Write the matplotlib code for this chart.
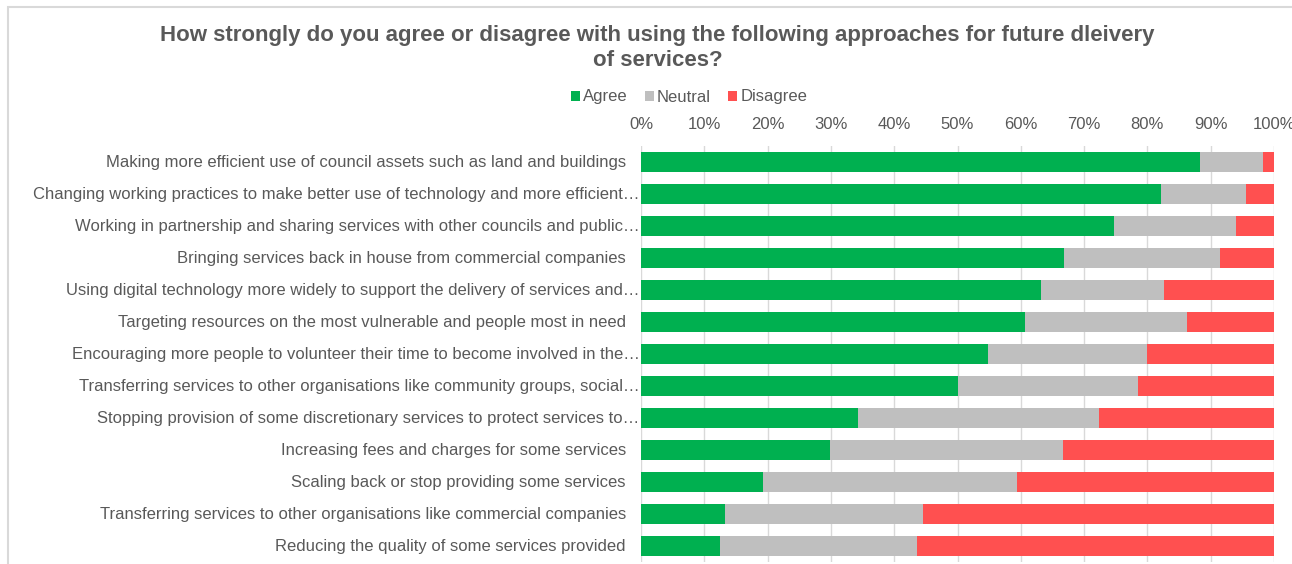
import numpy as np
import matplotlib.pyplot as plt
from matplotlib.patches import Rectangle

plt.rcParams['font.family'] = ['Liberation Sans', 'DejaVu Sans']

categories = [
    'Making more efficient use of council assets such as land and buildings',
    'Changing working practices to make better use of technology and more efficient\u2026',
    'Working in partnership and sharing services with other councils and public\u2026',
    'Bringing services back in house from commercial companies',
    'Using digital technology more widely to support the delivery of services and\u2026',
    'Targeting resources on the most vulnerable and people most in need',
    'Encouraging more people to volunteer their time to become involved in the\u2026',
    'Transferring services to other organisations like community groups, social\u2026',
    'Stopping provision of some discretionary services to protect services to\u2026',
    'Increasing fees and charges for some services',
    'Scaling back or stop providing some services',
    'Transferring services to other organisations like commercial companies',
    'Reducing the quality of some services provided',
]
agree = [88.3, 82.1, 74.7, 66.9, 63.2, 60.7, 54.8, 50.0, 34.3, 29.9, 19.2, 13.3, 12.5]
neutral = [9.9, 13.4, 19.3, 24.5, 19.5, 25.5, 25.1, 28.5, 38.1, 36.7, 40.2, 31.3, 31.1]
disagree = [1.8, 4.5, 6.0, 8.6, 17.3, 13.8, 20.1, 21.5, 27.6, 33.4, 40.6, 55.4, 56.4]
series_names = ['Agree', 'Neutral', 'Disagree']
colors = ['#00b050', '#bfbfbf', '#ff5050']
text_col = '#595959'

W, H = 1292, 564
fig = plt.figure(figsize=(W / 100, H / 100), dpi=100)

# chart frame
fig.patches.append(Rectangle((8 / W, -0.1), 1.2, 1.1 - 7 / H, transform=fig.transFigure,
                             facecolor='none', edgecolor='#d9d9d9', linewidth=1.5, zorder=-1))

ax = fig.add_axes([641 / W, 2 / H, (1274 - 641) / W, (564 - 146 - 2) / H])
ax.set_facecolor('none')

y = np.arange(len(categories))
left = np.zeros(len(categories))
for vals, name, col in zip([agree, neutral, disagree], series_names, colors):
    ax.barh(y, vals, left=left, height=0.625, color=col, label=name, zorder=2)
    left = left + np.array(vals)

ax.set_xlim(0, 100)
ax.set_ylim(len(categories) - 0.5, -0.5)
ax.set_xticks(np.arange(0, 101, 10))
ax.set_xticklabels([f'{v}%' for v in range(0, 101, 10)])
ax.xaxis.tick_top()
ax.tick_params(axis='x', length=0, pad=10, labelsize=12, labelcolor=text_col)
ax.set_yticks([])
ax.grid(axis='x', color='#d9d9d9', linewidth=1, zorder=0)
for s in ax.spines.values():
    s.set_visible(False)

trans = ax.get_yaxis_transform()
for i, lab in enumerate(categories):
    xoff = -0.002 if lab.endswith('\u2026') else -0.024
    ax.text(xoff, i, lab, transform=trans, ha='right', va='center',
            fontsize=12, color=text_col)

fig.text(0.509, 1 - 48 / H, 'How strongly do you agree or disagree with using the following approaches for future dleivery\nof services?',
         ha='center', va='center', fontsize=16, fontweight='bold', color=text_col,
         linespacing=1.25)

handles, labels = ax.get_legend_handles_labels()
fig.legend(handles, labels, loc='center', bbox_to_anchor=(689 / W, 1 - 97 / H), ncol=3,
           frameon=False, fontsize=12, labelcolor=text_col, handlelength=0.55,
           handleheight=0.55, handletextpad=0.2, columnspacing=1.0)

fig.savefig('out.png', dpi=100)
